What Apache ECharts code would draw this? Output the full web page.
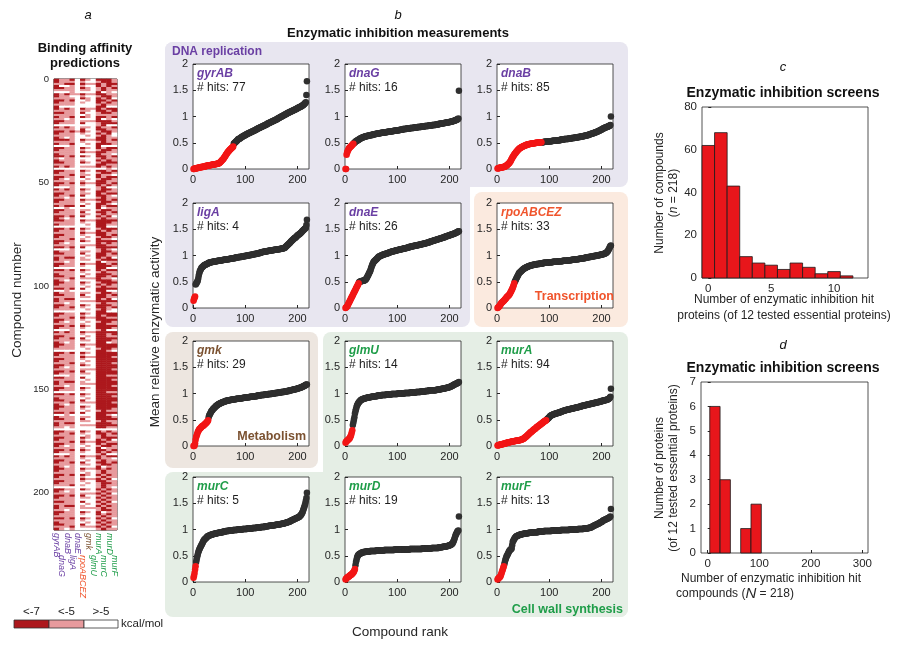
<!DOCTYPE html>
<html>
<head>
<meta charset="utf-8">
<script src="https://cdn.jsdelivr.net/npm/echarts@6.0.0/dist/echarts.min.js"></script>
<style>html,body{margin:0;padding:0;background:#fff;}#chart{width:900px;height:646px;}</style>
</head>
<body>
<div id="chart"></div>
<script>
// ================= DATA =================
const proteins = ['gyrAB','dnaG','dnaB','ligA','dnaE','rpoABCEZ','gmk','glmU','murA','murC','murD','murF'];
const proteinGroup = ['dna','dna','dna','dna','dna','tx','met','cw','cw','cw','cw','cw'];
const hits = [77,16,85,4,26,33,29,14,94,5,19,13];

// mean relative enzymatic activity of the 218 compounds, sorted by rank (values in % of 1.0)
const act_gyrAB = [0,0,1,1,1,1,2,2,2,2,3,3,3,3,4,4,4,4,4,5,5,5,5,5,6,6,6,6,6,7,7,7,7,7,8,8,8,8,8,9,9,9,9,9,10,10,10,10,11,11,12,13,14,15,16,17,18,19,21,22,24,25,27,28,30,31,33,34,35,36,37,38,39,40,41,42,43,
48,49,50,51,52,53,54,55,56,57,57,58,58,59,60,61,61,62,63,63,64,64,65,65,66,66,67,67,68,68,69,69,70,70,71,71,72,72,73,73,74,74,75,75,76,76,77,77,78,78,79,79,80,80,81,81,82,82,83,83,84,84,85,
85,86,86,87,87,88,88,89,89,90,90,91,91,92,92,93,93,94,94,95,95,96,96,97,97,98,99,99,100,100,101,101,102,103,103,104,104,105,105,106,106,107,107,108,108,109,109,110,110,111,111,112,112,113,113,114,114,115,115,116,
116,117,117,118,118,119,119,120,121,121,122,123,124,125,126,127,141,167];
const act_dnaG = [0,0,27,31,34,36,38,40,41,42,43,44,45,46,47,48,49,50,51,52,53,54,54,55,55,56,56,57,58,58,
59,59,60,60,61,61,61,62,62,62,63,63,63,63,64,64,64,64,65,65,65,65,65,66,66,66,66,66,67,67,67,67,67,68,68,68,68,68,69,69,
69,69,69,69,70,70,70,70,70,70,71,71,71,71,71,71,72,72,72,72,72,72,73,73,73,73,73,73,74,74,74,74,74,74,75,75,75,75,75,75,
76,76,76,76,76,76,76,77,77,77,77,77,77,77,78,78,78,78,78,78,78,79,79,79,79,79,79,79,80,80,80,80,80,80,80,81,81,81,81,81,
81,81,82,82,82,82,82,82,82,83,83,83,83,83,83,83,84,84,84,84,84,84,84,85,85,85,85,85,85,86,86,86,86,86,86,87,87,87,87,87,
88,88,88,88,88,89,89,89,89,89,90,90,90,90,91,91,91,92,92,92,93,93,94,94,95,95,96,149];
const act_dnaB = [1,1,2,2,2,3,3,3,3,3,4,4,4,4,5,5,6,6,7,8,9,10,11,12,14,15,17,19,21,23,24,26,27,29,30,31,33,34,35,36,37,38,39,40,40,
41,42,42,43,43,44,44,45,45,45,46,46,46,47,47,47,47,48,48,48,48,48,49,49,49,49,49,49,50,50,50,50,50,50,50,51,51,51,51,51,
51,51,51,51,52,52,52,52,52,52,52,52,53,53,53,53,53,53,53,53,54,54,54,54,54,54,54,54,54,55,55,55,55,55,55,55,56,56,56,56,56,56,56,57,57,
57,57,57,57,57,57,58,58,58,58,58,58,59,59,59,59,59,59,60,60,60,60,60,60,61,61,61,61,61,62,62,62,62,62,63,63,63,63,64,64,
64,64,65,65,65,65,66,66,66,67,67,67,68,68,68,69,69,70,70,70,71,71,72,72,73,73,74,74,75,75,76,76,77,77,78,78,79,79,80,80,
80,81,81,82,82,83,84,100];
const act_ligA = [14,17,20,22,45,46,48,50,52,56,62,66,70,72,74,76,77,78,79,80,81,82,82,83,83,84,84,85,85,86,
86,86,87,87,87,87,88,88,88,88,88,89,89,89,89,89,90,90,90,90,90,90,91,91,91,91,91,92,92,92,92,92,92,93,93,93,93,93,93,94,
94,94,94,94,95,95,95,95,95,95,96,96,96,96,96,96,97,97,97,97,97,97,98,98,98,98,98,99,99,99,99,99,100,100,100,100,100,101,101,101,
101,101,102,102,102,102,103,103,103,103,103,104,104,104,104,105,105,105,105,106,106,106,106,107,107,107,107,107,108,108,108,108,108,109,109,109,109,109,110,110,
110,110,110,110,111,111,111,111,111,111,112,112,112,112,112,112,113,113,113,113,113,114,114,114,115,115,116,117,118,119,120,121,122,123,124,125,126,127,128,129,
130,131,132,133,134,134,135,136,137,138,139,140,140,141,142,143,144,145,146,147,148,149,150,151,152,153,158,168];
const act_dnaE = [0,1,2,3,5,7,9,11,13,15,17,19,21,23,25,27,29,31,33,35,37,39,41,43,45,47,
49,50,50,51,51,51,52,52,52,52,53,53,54,55,56,58,60,62,64,66,68,70,73,76,79,82,84,86,88,89,90,91,92,93,
94,95,96,97,98,98,99,99,100,100,101,101,102,102,102,103,103,103,104,104,104,105,105,105,106,106,106,107,107,107,108,108,108,108,109,109,109,110,110,110,
110,111,111,111,111,112,112,112,112,113,113,113,113,114,114,114,114,115,115,115,115,116,116,116,116,117,117,117,117,118,118,118,118,119,119,119,119,119,120,120,
120,120,121,121,121,121,122,122,122,122,123,123,123,123,124,124,124,125,125,125,125,126,126,126,127,127,127,128,128,128,129,129,129,130,130,130,131,131,131,132,
132,132,133,133,133,134,134,134,135,135,135,136,136,136,137,137,137,138,138,138,139,139,140,140,140,141,141,141,142,142,143,143,144,144,145,145,146,146];
const act_rpo = [0,1,2,3,4,6,7,9,10,11,12,13,14,15,16,17,18,20,21,22,23,24,25,26,28,30,32,34,36,38,41,44,47,
50,52,54,56,58,60,62,64,66,67,68,69,70,71,72,73,74,75,75,76,76,77,77,78,78,79,79,80,80,80,81,81,81,82,82,82,82,
83,83,83,83,83,84,84,84,84,84,84,85,85,85,85,85,85,85,86,86,86,86,86,86,86,86,86,87,87,87,87,87,87,87,87,87,88,88,88,88,
88,88,88,88,88,88,89,89,89,89,89,89,89,89,89,90,90,90,90,90,90,90,90,90,90,91,91,91,91,91,91,91,92,92,92,92,92,92,92,93,
93,93,93,93,93,93,94,94,94,94,94,94,95,95,95,95,95,95,96,96,96,96,96,96,97,97,97,97,97,98,98,98,98,98,99,99,99,99,99,100,
100,100,100,100,101,101,101,101,102,102,102,102,103,103,103,104,104,105,105,106,107,108,110,112,114,116,118,119];
const act_gmk = [0,0,1,5,12,17,20,23,26,28,30,32,33,34,35,36,37,38,38,39,40,41,42,43,44,45,46,47,49,
55,58,60,62,64,66,67,68,70,71,72,73,74,75,76,77,77,78,79,80,80,81,81,82,82,83,83,84,84,84,85,85,85,86,86,86,
86,87,87,87,87,87,88,88,88,88,88,89,89,89,89,89,89,90,90,90,90,90,90,90,91,91,91,91,91,91,92,92,92,92,92,92,93,93,93,93,
93,93,93,94,94,94,94,94,94,94,95,95,95,95,95,95,95,96,96,96,96,96,96,96,97,97,97,97,97,97,97,98,98,98,98,98,98,98,99,99,
99,99,99,99,99,100,100,100,100,100,100,101,101,101,101,101,101,102,102,102,102,102,102,103,103,103,103,103,103,104,104,104,104,104,105,105,105,105,105,106,
106,106,106,106,107,107,107,107,108,108,108,108,109,109,109,110,110,110,111,111,111,112,112,113,113,114,114,115,115,116,116,117,117];
const act_glmU = [6,8,9,10,11,12,13,14,15,17,19,22,26,30,
40,45,50,55,62,66,70,74,77,79,81,83,84,85,86,87,88,88,89,89,90,90,90,91,91,91,92,92,92,92,93,93,93,93,93,94,
94,94,94,94,95,95,95,95,95,95,95,96,96,96,96,96,96,96,96,97,97,97,97,97,97,97,97,97,98,98,98,98,98,98,98,98,98,98,99,99,
99,99,99,99,99,99,99,99,99,99,100,100,100,100,100,100,100,100,100,100,100,100,100,101,101,101,101,101,101,101,101,101,101,101,102,102,102,102,102,102,
102,102,102,102,102,103,103,103,103,103,103,103,103,103,104,104,104,104,104,104,104,104,104,105,105,105,105,105,105,105,106,106,106,106,106,106,106,106,106,106,
106,106,106,106,107,107,107,107,107,108,108,108,108,108,109,109,109,109,109,110,110,110,110,111,111,111,111,112,112,112,113,113,114,114,115,115,116,116,117,117,
118,118,119,119,120,120,121,122];
const act_murA = [1,1,2,2,2,3,3,3,3,4,4,4,4,5,5,5,5,6,6,6,6,7,7,7,7,8,8,8,8,9,9,9,9,9,10,10,10,10,10,10,11,11,11,11,12,
12,12,13,13,14,14,15,16,16,17,18,19,20,21,22,23,24,25,26,26,27,28,29,30,31,32,32,33,34,35,36,36,37,38,39,39,40,41,42,43,43,44,45,46,46,47,48,48,49,
50,51,52,53,54,55,56,57,58,58,59,59,60,60,61,61,61,62,62,62,63,63,63,64,64,64,65,65,65,66,66,66,67,67,67,68,
68,68,69,69,69,69,70,70,70,70,71,71,71,71,72,72,72,72,73,73,73,73,74,74,74,74,75,75,75,75,76,76,76,76,77,77,77,77,78,78,
78,78,79,79,79,79,80,80,80,80,81,81,81,81,82,82,82,82,83,83,83,83,84,84,84,84,85,85,85,85,86,86,86,86,87,87,87,87,88,88,
88,89,89,90,91,92,94,109];
const act_murC = [8,12,17,24,30,38,43,48,52,56,59,62,64,66,68,70,72,74,76,78,80,81,82,83,84,85,86,87,87,88,
88,89,89,90,90,90,91,91,91,92,92,92,92,93,93,93,93,94,94,94,94,94,95,95,95,95,95,96,96,96,96,96,97,97,97,97,97,97,98,98,
98,98,98,98,98,98,99,99,99,99,99,99,99,99,100,100,100,100,100,100,100,100,100,100,101,101,101,101,101,101,101,101,101,102,102,102,102,102,102,102,
102,102,102,103,103,103,103,103,103,103,103,104,104,104,104,104,104,104,104,105,105,105,105,105,105,105,105,106,106,106,106,106,106,106,107,107,107,107,107,107,
107,108,108,108,108,108,108,109,109,109,109,109,109,110,110,110,110,110,111,111,111,111,111,112,112,112,113,113,113,114,114,114,115,115,115,116,116,117,117,118,
118,119,119,120,120,121,121,122,122,123,123,124,124,125,126,127,128,130,132,134,137,140,143,146,150,155,160,170];
const act_murD = [5,6,7,8,9,10,10,11,12,13,14,14,15,16,17,18,20,22,25,
32,38,42,46,49,51,52,53,54,54,55,55,56,56,56,57,57,57,57,57,58,58,58,58,58,58,58,58,59,59,59,59,59,59,59,59,
59,59,59,59,60,60,60,60,60,60,60,60,60,60,60,60,60,60,60,61,61,61,61,61,61,61,61,61,61,61,61,61,61,61,61,61,61,61,61,62,
62,62,62,62,62,62,62,62,62,62,62,62,62,62,62,62,62,62,62,62,62,62,62,62,62,62,62,62,63,63,63,63,63,63,63,63,63,63,63,63,
63,63,63,63,63,63,63,63,63,63,63,63,64,64,64,64,64,64,64,64,64,64,64,64,64,64,64,64,64,64,65,65,65,65,65,65,65,65,65,65,
65,65,65,65,66,66,66,66,66,66,66,67,67,67,67,67,67,68,68,68,68,69,69,69,70,70,71,71,72,73,74,76,78,81,84,87,90,92,94,96,97,98,125];
const act_murF = [5,6,7,8,9,10,12,15,18,21,24,27,30,
34,38,42,45,48,50,52,54,56,58,60,61,62,63,64,70,76,78,80,82,84,85,86,87,87,88,88,89,89,90,90,90,91,91,91,91,92,
92,92,92,92,93,93,93,93,93,93,94,94,94,94,94,94,94,95,95,95,95,95,95,95,95,95,95,95,96,96,96,96,96,96,96,96,96,96,96,97,
97,97,97,97,97,97,97,97,97,97,97,97,97,97,98,98,98,98,98,98,98,98,98,98,98,98,98,98,98,98,98,99,99,99,99,99,99,99,99,99,
99,99,99,99,99,99,99,99,100,100,100,100,100,100,100,100,100,100,100,100,100,100,100,100,101,101,101,101,101,101,101,101,101,101,101,102,102,102,102,102,
102,102,102,103,103,103,103,104,104,104,105,105,106,106,107,107,108,108,109,109,110,110,111,111,112,112,113,114,114,115,115,116,117,117,118,118,119,119,120,120,
121,121,122,122,123,124,125,139];
const activity = [act_gyrAB, act_dnaG, act_dnaB, act_ligA, act_dnaE, act_rpo, act_gmk, act_glmU, act_murA, act_murC, act_murD, act_murF];

// binding affinity class: one 12-character row per compound (1..218), columns in the order of `proteins`
// 2 = < -7, 1 = < -5, 0 = > -5 kcal/mol
const affinityClasses = ['<-7', '<-5', '>-5'];
const bindingRows = (
 "211202102221 211101001221 112202112122 200101002121 221102101212 111101101211 000100002010 212112112211 211001001221 111102102120 " +
 "221200102212 211101002121 111100001211 200000002200 212102112122 111101102212 221102001221 111100101111 211202102212 110100002010 " +
 "221101112221 211102001222 000000001200 212101102112 111102002211 221212101221 211101002120 111100101210 210100002211 222102112212 " +
 "111101001211 211200102221 000100002000 221102102122 211101001221 111102112211 211100002110 221202102212 101100001211 211101002121 " +
 "221102101222 111100002211 212101112121 000000000010 221102102212 211101001221 111201102110 221102002122 210100101221 111101002211 " +
 "221202112212 211101002121 000100001200 212102101221 111101002211 221101102122 211202002210 110100001211 221102112212 211101001221 " +
 "111100102210 212202002122 001000002011 221101101221 211102002212 111101101211 221202002120 210100001211 221102112222 111101002221 " +
 "211100102211 000000002200 221202101222 211101002121 111102112211 221101002212 211100101221 111201002110 221102102222 210100002121 " +
 "111101112211 221202002222 000100001210 211101101221 221102002212 111100102211 212201002120 211101101222 110100002011 221102112212 " +
 "211101002221 000000002200 221202102122 111101001211 211100102221 221102002212 111201112110 210100002221 221102101222 211101002121 " +
 "111100101211 221202002222 001000002200 211101101221 221102002212 111101102211 212200002120 211101112222 110100001211 221102102221 " +
 "211201002212 111100101210 000000002200 221102102222 211101002122 111202112211 221101002222 210100101221 111101002211 221202102222 " +
 "211101002221 000100001200 212102112222 111101002212 221100102211 211202002222 111101102221 210100002201 221102112222 211101002222 " +
 "111100101221 000000002210 221202102222 211101002222 111102112221 221101002222 211100102222 111201002221 221102102222 210100002222 " +
 "111101112221 221202002222 211101102222 000100002211 221102002222 111100102221 212201002222 211101112222 110100002221 221102102222 " +
 "211101002222 000000002211 221202102222 111101002221 211100102222 221102002222 111201112221 210100002222 221102102222 211101002221 " +
 "111100101211 221202002222 001000002210 211101102221 221102002222 111101101211 212200002221 211101112222 110100002211 000000000000 " +
 "221102102121 211201002212 111100101211 221102101222 211101002120 111202112211 221101002122 210100101221 111101002011 221202102212 " +
 "211101002121 000100001200 212102112122 111101002110 221100101211 211202002212 111101101221 210100002011 221102112121 211101001211 " +
 "111100101211 221202102121 211101001211 111102112120 221101002211 211100101221 111201001211 000000001210 221102102121 210100001211 " +
 "111101112120 221202001211 211101102121 111100001211 221102002120 111100101211 212201002121 211101111211 110100001221 221102102011 " +
 "211101002121 111100001211 221202102120 111101001211 211100102121 221102001211 111201112120 210100001211"
).split(/\s+/);

// histogram c: number of hit proteins per compound
const histC_edges = [-0.5,0.5,1.5,2.5,3.5,4.5,5.5,6.5,7.5,8.5,9.5,10.5,11.5];
const histC_counts = [62,68,43,10,7,6,4,7,5,2,3,1];
// histogram d: number of hit compounds per protein
const histD_edges = [4,24,44,64,84,104];
const histD_counts = [6,3,0,1,2];

const heatTicks = [0,50,100,150,200];
const scatterXTicks = [0,100,200];
const histCTicks = [0,5,10];
const histDTicks = [0,100,200,300];

// ================= CHART =================
const FONT = '"Liberation Sans", Arial, Helvetica, sans-serif';
const INK = '#262626';
const GROUP_COLOR = {dna:'#6a3fa3', tx:'#f0542c', met:'#7b5231', cw:'#1f9d49'};
const HEAT_COLORS = ['#ffffff', '#e79a9d', '#ad181d'];
const DOT_RED = '#f21616', DOT_BLACK = '#2f2f2f', BAR_RED = '#e8161b';

const compoundIds = bindingRows.map((_, i) => String(i + 1));

const grids = [], xAxes = [], yAxes = [], series = [], graphics = [];

// ---- panel a: heatmap ----
const labelRich = {};
Object.keys(GROUP_COLOR).forEach(g => {
  labelRich[g] = {color: GROUP_COLOR[g], fontStyle:'italic', fontSize:9, fontFamily:FONT};
});
grids.push({left:54, top:79, width:63, height:451, show:true, borderColor:'#1a1a1a', borderWidth:1, backgroundColor:'transparent', containLabel:false});
[0, 1].forEach(parity => {
  xAxes.push({type:'category', gridIndex:0, data:proteins, position:'bottom',
    axisLine:{show:false}, axisTick:{show:false}, splitLine:{show:false},
    axisLabel:{interval:(idx) => idx % 2 === parity, rotate:-90, margin: parity ? 25 : 3,
      formatter:(v, i) => '{' + proteinGroup[i] + '|' + v + '}', rich:labelRich}});
});
yAxes.push({type:'category', gridIndex:0, data:compoundIds, inverse:true, show:false});
yAxes.push({type:'value', gridIndex:0, position:'left', min:0, max:218, inverse:true,
  axisLine:{show:false}, splitLine:{show:false},
  axisTick:{show:true, inside:true, length:3, lineStyle:{color:INK}, customValues:heatTicks},
  axisLabel:{fontSize:9.5, color:INK, margin:5, fontFamily:FONT, customValues:heatTicks}});
const heatData = [];
bindingRows.forEach((row, r) => {
  for (let c = 0; c < proteins.length; c++) heatData.push([c, r, +row[c]]);
});
series.push({type:'heatmap', xAxisIndex:0, yAxisIndex:0, data:heatData, silent:true, itemStyle:{borderWidth:0}, z:2});

// ---- panel b: scatter grids ----
const colL = [193, 345, 497], rowT = [64, 203, 341, 477], PW = 116, PH = 105;
proteins.forEach((p, i) => {
  const L = colL[i % 3], T = rowT[Math.floor(i / 3)];
  grids.push({left:L, top:T, width:PW, height:PH, show:true, backgroundColor:'#ffffff', borderColor:INK, borderWidth:0.8});
  const gi = grids.length - 1;
  xAxes.push({type:'value', gridIndex:gi, min:0, max:222,
    axisLine:{show:false}, splitLine:{show:false},
    axisTick:{show:true, inside:true, length:3, lineStyle:{color:INK}, customValues:scatterXTicks},
    axisLabel:{fontSize:11, color:INK, margin:5, fontFamily:FONT, customValues:scatterXTicks}});
  yAxes.push({type:'value', gridIndex:gi, min:0, max:2, interval:0.5,
    axisLine:{show:false}, splitLine:{show:false},
    axisTick:{show:true, inside:true, length:3, lineStyle:{color:INK}},
    axisLabel:{fontSize:11, color:INK, margin:5, fontFamily:FONT}});
  const xa = xAxes.length - 1, ya = yAxes.length - 1;
  const red = [], black = [];
  activity[i].forEach((v, k) => (k < hits[i] ? red : black).push([k + 1, v / 100]));
  series.push({type:'scatter', xAxisIndex:xa, yAxisIndex:ya, data:black, symbolSize:6.5, silent:true, itemStyle:{color:DOT_BLACK, opacity:1}, z:3});
  series.push({type:'scatter', xAxisIndex:xa, yAxisIndex:ya, data:red, symbolSize:6.5, silent:true, itemStyle:{color:DOT_RED, opacity:1}, z:4});
  graphics.push({type:'text', x:L + 4, y:T + 10, z:50, style:{text:p, font:'italic bold 12px ' + FONT, fill:GROUP_COLOR[proteinGroup[i]], align:'left', verticalAlign:'middle', textAlign:'left', textVerticalAlign:'middle'}});
  graphics.push({type:'text', x:L + 4, y:T + 24, z:50, style:{text:'# hits: ' + hits[i], font:'12px ' + FONT, fill:'#1e1e1e', align:'left', verticalAlign:'middle', textAlign:'left', textVerticalAlign:'middle'}});
});

// ---- histograms ----
function histRender(params, api) {
  const lo = api.value(0), hi = api.value(1), n = api.value(2);
  if (!n) return null;
  const a = api.coord([lo, n]), b = api.coord([hi, 0]);
  return {type:'rect', shape:{x:a[0], y:a[1], width:b[0] - a[0], height:b[1] - a[1]},
    style:{fill:BAR_RED, stroke:'#1a1a1a', lineWidth:0.8}};
}
function addHist(box, xmin, xmax, xticks, ymax, yint, edges, counts) {
  grids.push(Object.assign({show:true, backgroundColor:'#ffffff', borderColor:INK, borderWidth:0.8}, box));
  const gi = grids.length - 1;
  xAxes.push({type:'value', gridIndex:gi, min:xmin, max:xmax,
    axisLine:{show:false}, splitLine:{show:false},
    axisTick:{show:true, inside:true, length:3, lineStyle:{color:INK}, customValues:xticks},
    axisLabel:{fontSize:11.5, color:INK, margin:5, fontFamily:FONT, customValues:xticks}});
  yAxes.push({type:'value', gridIndex:gi, min:0, max:ymax, interval:yint,
    axisLine:{show:false}, splitLine:{show:false},
    axisTick:{show:true, inside:true, length:3, lineStyle:{color:INK}},
    axisLabel:{fontSize:11.5, color:INK, margin:5, fontFamily:FONT}});
  const data = counts.map((c, k) => [edges[k], edges[k + 1], c]);
  series.push({type:'custom', xAxisIndex:xAxes.length - 1, yAxisIndex:yAxes.length - 1, data:data,
    encode:{x:[0, 1], y:2}, renderItem:histRender, silent:true, z:3});
}
addHist({left:702, top:107, width:166, height:171}, -0.5, 12.7, histCTicks, 80, 20, histC_edges, histC_counts);
addHist({left:701, top:382, width:167, height:171}, -13, 311, histDTicks, 7, 1, histD_edges, histD_counts);

// ---- background group boxes ----
function box(x, y, w, h, fill) {
  graphics.push({type:'rect', z:-20, shape:{x:x, y:y, width:w, height:h, r:8}, style:{fill:fill}, silent:true});
}
const C_DNA = '#e8e6f0', C_TX = '#fbeadf', C_MET = '#ede6e0', C_CW = '#e5eee5';
box(165, 42, 463, 145, C_DNA); box(165, 42, 305, 285, C_DNA);
box(474, 192, 154, 135, C_TX);
box(165, 332, 153, 136, C_MET);
box(323, 332, 305, 285, C_CW); box(165, 472, 463, 145, C_CW);

function txt(t, x, y, font, fill, align, rot, extra) {
  const el = {type:'text', x:x, y:y, z:60, rotation:rot || 0,
    style:Object.assign({text:t, font:font + ' ' + FONT, fill:fill || '#111', align:align || 'center', verticalAlign:'middle', textAlign:align || 'center', textVerticalAlign:'middle'}, extra || {})};
  graphics.push(el);
}
// group labels
txt('DNA replication', 172, 52, 'bold 12px', GROUP_COLOR.dna, 'left');
txt('Transcription', 614, 297, 'bold 12.5px', GROUP_COLOR.tx, 'right');
txt('Metabolism', 306, 437, 'bold 12.5px', GROUP_COLOR.met, 'right');
txt('Cell wall synthesis', 623, 610, 'bold 12.5px', GROUP_COLOR.cw, 'right');

// panel letters and titles
txt('a', 88, 15, 'italic 13px', '#111');
txt('b', 398, 15, 'italic 13px', '#111');
txt('c', 783, 67, 'italic 13px', '#111');
txt('d', 783, 345, 'italic 13px', '#111');
txt('Binding affinity', 85, 48, 'bold 13px', '#111');
txt('predictions', 85, 63, 'bold 13px', '#111');
txt('Enzymatic inhibition measurements', 398, 33, 'bold 13px', '#111');
txt('Enzymatic inhibition screens', 783, 93, 'bold 14px', '#111');
txt('Enzymatic inhibition screens', 783, 368, 'bold 14px', '#111');

// axis titles
txt('Compound number', 17, 300, '13.5px', INK, 'center', Math.PI / 2);
txt('Mean relative enzymatic activity', 155, 332, '13.5px', INK, 'center', Math.PI / 2);
txt('Compound rank', 400, 632, '13.5px', INK, 'center');
txt('{a|Number of compounds}\n{a|(}{i|n}{a| = 218)}', 667, 193, '12px', INK, 'center', Math.PI / 2,
  {rich:{a:{fontSize:12, fontFamily:FONT, fill:INK, color:INK, lineHeight:14}, i:{fontSize:12, fontStyle:'italic', fontFamily:FONT, fill:INK, color:INK, lineHeight:14}}});
txt('Number of enzymatic inhibition hit', 784, 300, '12px', INK, 'center');
txt('proteins (of 12 tested essential proteins)', 784, 316, '12px', INK, 'center');
txt('{a|Number of proteins}\n{a|(of 12 tested essential proteins)}', 667, 468, '12px', INK, 'center', Math.PI / 2,
  {rich:{a:{fontSize:12, fontFamily:FONT, fill:INK, color:INK, lineHeight:14}}});
txt('Number of enzymatic inhibition hit', 771, 579, '12px', INK, 'center');
txt('{a|compounds (}{i|N}{a| = 218)}', 735, 594, '12px', INK, 'center', 0,
  {rich:{a:{fontSize:12, fontFamily:FONT, fill:INK, color:INK}, i:{fontSize:15, fontStyle:'italic', fontFamily:FONT, fill:INK, color:INK}}});

// colour bar legend for binding affinity
const cbX = [14, 49, 84, 118];
[2, 1, 0].forEach((lvl, k) => {
  graphics.push({type:'rect', z:10, shape:{x:cbX[k], y:620, width:cbX[k + 1] - cbX[k], height:8}, style:{fill:HEAT_COLORS[lvl], stroke:'#333', lineWidth:0.8}});
  txt(affinityClasses[k], (cbX[k] + cbX[k + 1]) / 2, 612, '11.5px', '#222', 'center');
});
txt('kcal/mol', 121, 624, '11.5px', '#222', 'left');

const chart = echarts.init(document.getElementById('chart'), null, {renderer:'canvas', width:900, height:646});
chart.setOption({
  animation:false,
  backgroundColor:'#ffffff',
  textStyle:{fontFamily:FONT},
  grid:grids, xAxis:xAxes, yAxis:yAxes,
  visualMap:{type:'piecewise', show:false, seriesIndex:0, dimension:2,
    pieces:[{value:0, color:HEAT_COLORS[0]}, {value:1, color:HEAT_COLORS[1]}, {value:2, color:HEAT_COLORS[2]}]},
  series:series,
  graphic:{elements:graphics}
});
</script>
</body>
</html>
